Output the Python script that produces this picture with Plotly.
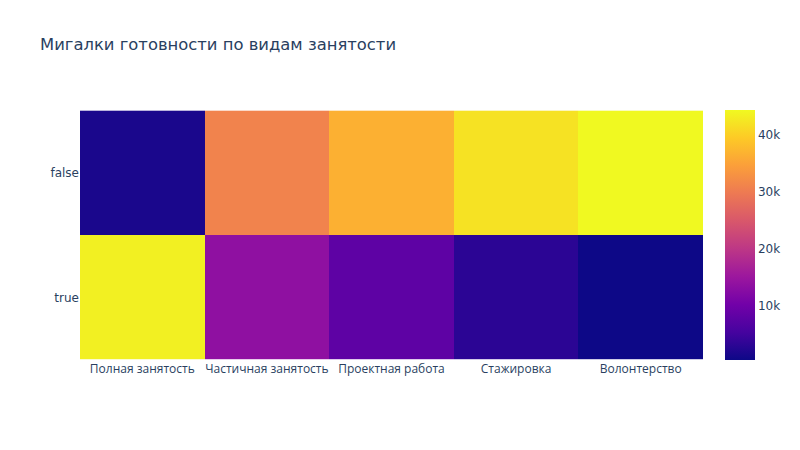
import plotly.graph_objects as go

categories = ["Полная занятость", "Частичная занятость", "Проектная работа", "Стажировка", "Волонтерство"]
rows = ["false", "true"]
values_false = [1500, 31000, 36500, 42000, 44400]
values_true = [43500, 13500, 8000, 3000, 400]

fig = go.Figure(go.Heatmap(
    z=[values_false, values_true],
    x=categories,
    y=rows,
    colorscale="Plasma",
    colorbar=dict(tickvals=[10000, 20000, 30000, 40000], ticktext=["10k", "20k", "30k", "40k"],
                  tickfont=dict(family="DejaVu Sans", size=12)),
))
fig.update_layout(
    template="plotly_white",
    title=dict(text="Мигалки готовности по видам занятости", font=dict(family="DejaVu Sans", size=16.4)),
    width=800, height=450,
    xaxis=dict(constrain="domain", showgrid=False),
    yaxis=dict(autorange="reversed", scaleanchor="x", constrain="domain", showgrid=False,
               tickfont=dict(family="DejaVu Sans", size=12)),
)
fig.write_html("out.html")
